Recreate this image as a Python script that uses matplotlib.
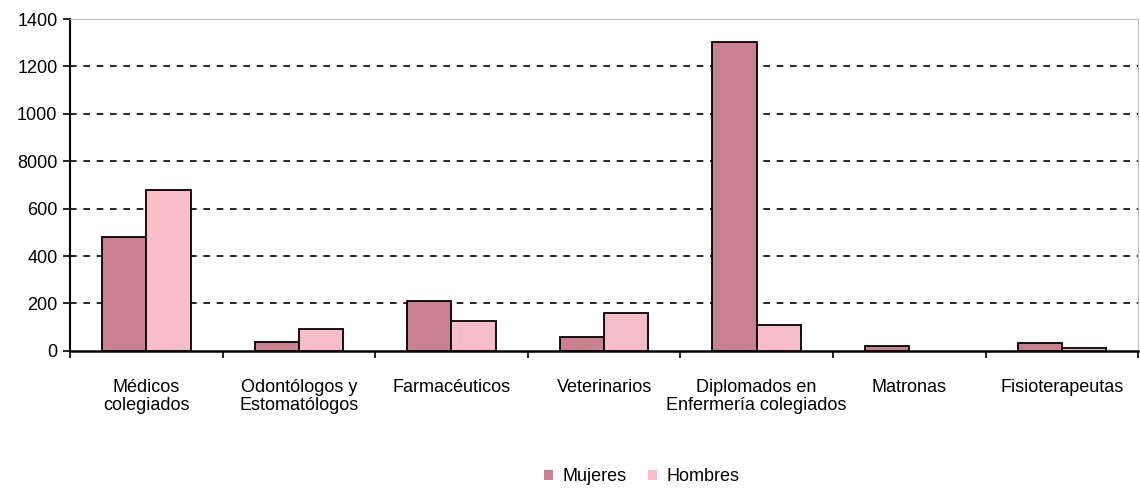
import numpy as np
import matplotlib.pyplot as plt
from matplotlib.patches import Patch

plt.rcParams['font.family'] = ['Liberation Sans', 'DejaVu Sans']

categorias = ['Médicos\ncolegiados', 'Odontólogos y\nEstomatólogos', 'Farmacéuticos',
              'Veterinarios', 'Diplomados en\nEnfermería colegiados', 'Matronas',
              'Fisioterapeutas']
mujeres = [480, 37, 209, 60, 1303, 21, 33]
hombres = [678, 91, 126, 158, 109, 0, 12]
yticks = [0, 200, 400, 600, 800, 1000, 1200, 1400]
ytick_labels = ['0', '200', '400', '600', '8000', '1000', '1200', '1400']

c_muj = '#C98090'
c_hom = '#F9BDC9'

fig = plt.figure(figsize=(11.4, 4.9), dpi=100)
ax = fig.add_axes([0.0614, 0.284, 0.937, 0.677])

x = np.arange(len(categorias))
w = 0.29
lw_m = [1.3 if v > 0 else 0 for v in mujeres]
lw_h = [1.3 if v > 0 else 0 for v in hombres]
ax.bar(x - w/2, mujeres, w, color=c_muj, edgecolor='black', linewidth=lw_m, zorder=3)
ax.bar(x + w/2, hombres, w, color=c_hom, edgecolor='black', linewidth=lw_h, zorder=3)

ax.set_xlim(-0.5, len(categorias) - 0.5)
ax.set_ylim(0, 1400)
ax.set_yticks(yticks)
ax.set_yticklabels(ytick_labels, fontsize=13)
for y in yticks[1:-1]:
    ax.axhline(y, color='black', linestyle=(0, (4, 4)), linewidth=1.2, zorder=1)

ax.set_xticks(x)
ax.set_xticklabels(categorias, fontsize=13, linespacing=1.1)
ax.tick_params(axis='x', which='major', length=0, pad=20)
ax.set_xticks(np.arange(len(categorias) + 1) - 0.5, minor=True)
ax.tick_params(axis='x', which='minor', length=5, width=1.2)
ax.tick_params(axis='y', length=5, width=1.2, pad=4)

ax.spines['left'].set_linewidth(1.5)
ax.spines['bottom'].set_linewidth(1.8)
ax.spines['top'].set_color('#BBBBBB')
ax.spines['right'].set_color('#BBBBBB')

handles = [Patch(facecolor=c_muj, edgecolor='none', label='Mujeres'),
           Patch(facecolor=c_hom, edgecolor='none', label='Hombres')]
fig.legend(handles=handles, loc='center', bbox_to_anchor=(0.563, 0.027), ncol=2,
           frameon=False, fontsize=13, handlelength=0.5, handleheight=0.5,
           handletextpad=0.5, columnspacing=1.2)

fig.savefig('out.png', dpi=100)
